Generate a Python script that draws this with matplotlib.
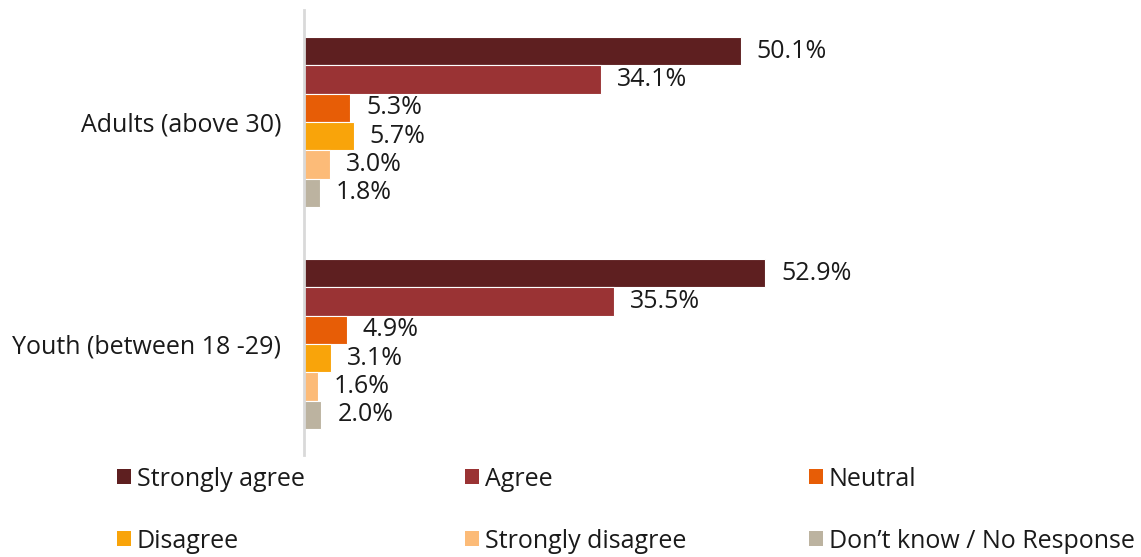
import matplotlib
matplotlib.use("Agg")
import matplotlib.pyplot as plt
from matplotlib.patches import Patch
import numpy as np

plt.rcParams['font.family'] = ['Open Sans', 'DejaVu Sans']

groups = ["Adults (above 30)", "Youth (between 18 -29)"]
responses = ["Strongly agree", "Agree", "Neutral", "Disagree",
             "Strongly disagree", "Don\u2019t know / No Response"]
adults = [50.1, 34.1, 5.3, 5.7, 3.0, 1.8]
youth = [52.9, 35.5, 4.9, 3.1, 1.6, 2.0]
colors = ["#5E1F20", "#9A3334", "#E75D06", "#F9A40A", "#FCBB78", "#BCB3A0"]

W, H = 1141, 557
fig = plt.figure(figsize=(W / 100, H / 100), dpi=100)
ax = fig.add_axes([304 / W, 1 - 455 / H, (W - 304) / W, 445 / H])

FS = 18
bh = 28.3 / 222
values = np.array([adults, youth])
ypos = np.arange(len(groups))
for k, (resp, col) in enumerate(zip(responses, colors)):
    y = ypos + (k - 2.5) * bh
    vals = values[:, k]
    ax.barh(y, vals, height=bh, color=col, edgecolor="white", linewidth=0.8)
    for yy, v in zip(y, vals):
        ax.annotate(f"{v:.1f}%", (v, yy), xytext=(11.5, 0), textcoords="offset points",
                    va="center", ha="left", fontsize=FS, color="#1a1a1a")

ax.set_xlim(0, 96)
ax.set_ylim(1.5, -0.505)
ax.set_yticks(ypos)
ax.set_yticklabels(groups, fontsize=FS, color="#1a1a1a")
ax.tick_params(axis="y", length=0, pad=16.5)
ax.set_xticks([])
for s in ["top", "right", "bottom"]:
    ax.spines[s].set_visible(False)
ax.spines["left"].set_color("#d9d9d9")
ax.spines["left"].set_linewidth(2)

# legend
xs = [117, 465, 809]
ys = [479, 541]
for k, (resp, col) in enumerate(zip(responses, colors)):
    r, c = divmod(k, 3)
    fig.legend(handles=[Patch(facecolor=col, edgecolor="none")], labels=[resp],
               loc="center left", bbox_to_anchor=(xs[c] / W, 1 - ys[r] / H),
               frameon=False, borderpad=0, borderaxespad=0,
               handlelength=0.57, handleheight=0.57, handletextpad=0.22,
               fontsize=FS, labelcolor="#1a1a1a")

fig.savefig("out.png", dpi=100)
